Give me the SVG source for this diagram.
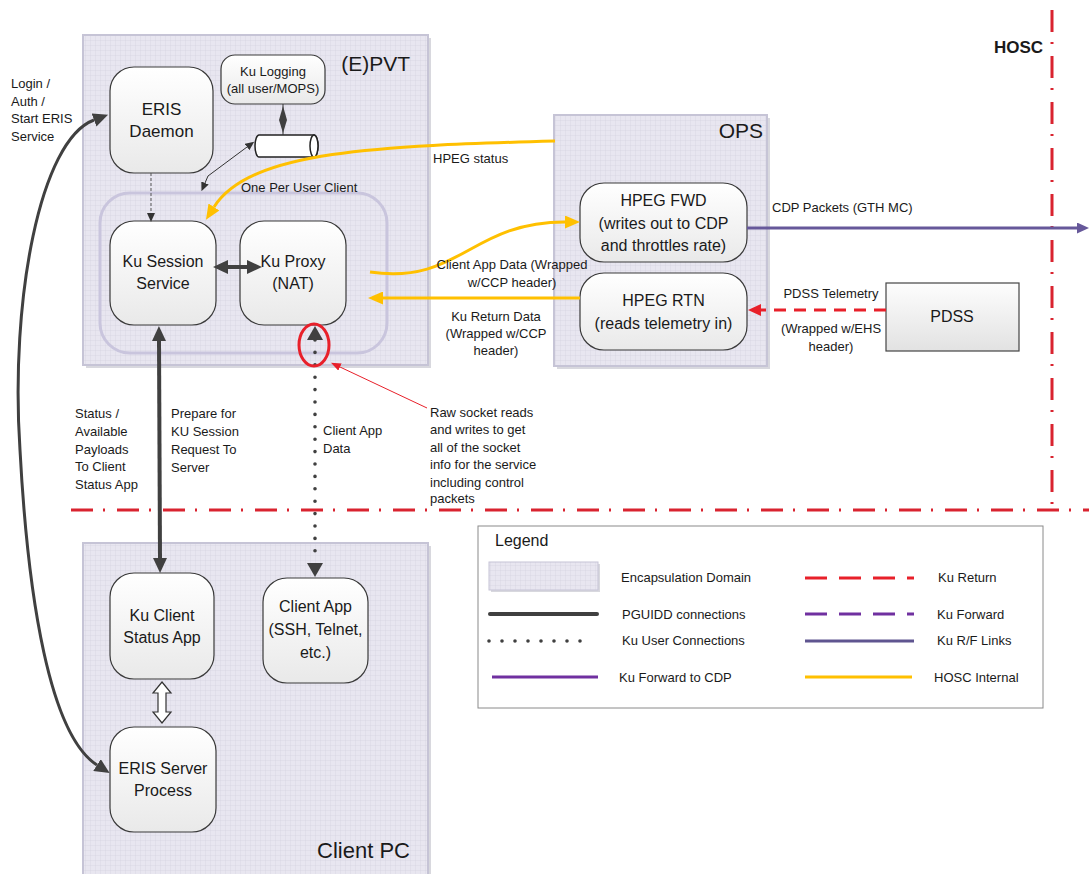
<svg xmlns="http://www.w3.org/2000/svg" width="1089" height="874" viewBox="0 0 1089 874">
<style>
text{font-family:"Liberation Sans",Arial,sans-serif;fill:#1a1a1a}
.s{font-size:13px}
.n{font-size:16px;text-anchor:middle}
.d{font-size:21px}
.node{fill:url(#ng);stroke:#3a3a3a;stroke-width:1.2}
.dom{fill:url(#grid);stroke:#c6c4d6;stroke-width:2}
.orange{fill:none;stroke:#ffc000;stroke-width:3}
.dark{fill:none;stroke:#404040}
.hdd{fill:none;stroke:#d9232f;stroke-width:3;stroke-dasharray:22 10 2 12}
</style>
<defs>
<pattern id="grid" width="5" height="5" patternUnits="userSpaceOnUse">
<rect width="5" height="5" fill="#e8e6f0"/>
<path d="M5,0 L0,0 0,5" fill="none" stroke="#d3d1e0" stroke-width="0.7"/>
</pattern>
<linearGradient id="ng" x1="0" y1="0" x2="0" y2="1">
<stop offset="0" stop-color="#ffffff"/><stop offset="1" stop-color="#e9e9e9"/>
</linearGradient>
<linearGradient id="pg" x1="0" y1="0" x2="0" y2="1">
<stop offset="0" stop-color="#fdfdfd"/><stop offset="1" stop-color="#e2e2e2"/>
</linearGradient>
<marker id="aBig" viewBox="0 0 15 14" refX="0" refY="7" markerWidth="15" markerHeight="14" markerUnits="userSpaceOnUse" orient="auto-start-reverse"><path d="M0,0 L15,7 L0,14 z" fill="#404040"/></marker>
<marker id="aDot" viewBox="0 0 14 16" refX="0" refY="8" markerWidth="14" markerHeight="16" markerUnits="userSpaceOnUse" orient="auto-start-reverse"><path d="M0,0 L14,8 L0,16 z" fill="#404040"/></marker>
<marker id="aSm" viewBox="0 0 9 8" refX="0" refY="4" markerWidth="9" markerHeight="8" markerUnits="userSpaceOnUse" orient="auto-start-reverse"><path d="M0,0 L9,4 L0,8 z" fill="#333"/></marker>
<marker id="aOr" viewBox="0 0 15 13" refX="0" refY="6.5" markerWidth="15" markerHeight="13" markerUnits="userSpaceOnUse" orient="auto-start-reverse"><path d="M0,0 L15,6.5 L0,13 z" fill="#ffc000"/></marker>
<marker id="aRed" viewBox="0 0 13 12" refX="0" refY="6" markerWidth="13" markerHeight="12" markerUnits="userSpaceOnUse" orient="auto-start-reverse"><path d="M0,0 L13,6 L0,12 z" fill="#e8202a"/></marker>
<marker id="aRedSm" viewBox="0 0 10 8" refX="0" refY="4" markerWidth="10" markerHeight="8" markerUnits="userSpaceOnUse" orient="auto-start-reverse"><path d="M0,0 L10,4 L0,8 z" fill="#e8202a"/></marker>
<marker id="aPur" viewBox="0 0 12 11" refX="0" refY="5.5" markerWidth="12" markerHeight="11" markerUnits="userSpaceOnUse" orient="auto-start-reverse"><path d="M0,0 L12,5.5 L0,11 z" fill="#66589a"/></marker>
</defs>
<rect width="1089" height="874" fill="#ffffff"/>

<g id="domain-epvt">
<rect x="86" y="38" width="345" height="330" fill="#d8d8de"/>
<rect class="dom" x="83" y="35" width="345" height="330"/>
<text class="d" x="410" y="71" text-anchor="end">(E)PVT</text>
</g>
<g id="domain-ops">
<rect x="557" y="118" width="213" height="251" fill="#d8d8de"/>
<rect class="dom" x="554" y="115" width="213" height="251"/>
<text class="d" x="763" y="138" text-anchor="end">OPS</text>
</g>
<g id="domain-clientpc">
<rect x="86" y="546" width="345" height="335" fill="#d8d8de"/>
<rect class="dom" x="83" y="543" width="345" height="335"/>
<text class="d" x="410" y="858" text-anchor="end" style="font-size:22px">Client PC</text>
</g>

<g id="hosc">
<line class="hdd" x1="1052" y1="10" x2="1052" y2="508"/>
<line class="hdd" x1="71" y1="510" x2="1089" y2="510"/>
<text x="1043" y="53" text-anchor="end" style="font-size:17px;font-weight:bold">HOSC</text>
</g>

<g id="user-client-group">
<rect x="100" y="193" width="287" height="160" rx="30" fill="none" stroke="#c9c5dd" stroke-width="3"/>
<text class="s" x="241" y="192">One Per User Client</text>
</g>

<g id="eris-daemon"><rect class="node" x="110" y="67" width="103" height="106" rx="24"/>
<text class="n" x="161.5" y="115" style="font-size:17px">ERIS</text><text class="n" x="161.5" y="137" style="font-size:17px">Daemon</text></g>
<g id="ku-logging"><rect class="node" x="221" y="55" width="104" height="49" rx="14"/>
<text class="s" x="273" y="75.5" text-anchor="middle">Ku Logging</text><text class="s" x="273" y="92.5" text-anchor="middle">(all user/MOPS)</text></g>
<g id="log-store">
<path d="M259,135 L314,135 A4,11 0 0 1 314,157 L259,157 A4,11 0 0 1 259,135 Z" fill="#ffffff" stroke="#222" stroke-width="1.5"/>
<ellipse cx="314" cy="146" rx="4" ry="11" fill="#ffffff" stroke="#222" stroke-width="1.5"/>
</g>
<g id="ku-session"><rect class="node" x="110" y="221" width="106" height="104" rx="24"/>
<text class="n" x="163" y="266.5">Ku Session</text><text class="n" x="163" y="288.5">Service</text></g>
<g id="ku-proxy"><rect class="node" x="240" y="221" width="106" height="104" rx="24"/>
<text class="n" x="293" y="266.5">Ku Proxy</text><text class="n" x="293" y="288.5">(NAT)</text></g>
<g id="hpeg-fwd"><rect class="node" x="580" y="183" width="167" height="79" rx="24"/>
<text class="n" x="663.5" y="205.5">HPEG FWD</text><text class="n" x="663.5" y="228.5">(writes out to CDP</text><text class="n" x="663.5" y="250.5">and throttles rate)</text></g>
<g id="hpeg-rtn"><rect class="node" x="580" y="273" width="167" height="77" rx="24"/>
<text class="n" x="663.5" y="305.5">HPEG RTN</text><text class="n" x="663.5" y="328.5">(reads telemetry in)</text></g>
<g id="pdss"><rect x="886" y="283" width="133" height="68" fill="url(#pg)" stroke="#444" stroke-width="1.2"/>
<text class="n" x="952" y="322">PDSS</text></g>
<g id="ku-client-status"><rect class="node" x="110" y="573" width="104" height="106" rx="24"/>
<text class="n" x="162" y="620.5">Ku Client</text><text class="n" x="162" y="642.5">Status App</text></g>
<g id="client-app"><rect class="node" x="263" y="578" width="105" height="105" rx="24"/>
<text class="n" x="315.5" y="612">Client App</text><text class="n" x="315.5" y="635">(SSH, Telnet,</text><text class="n" x="315.5" y="658">etc.)</text></g>
<g id="eris-server"><rect class="node" x="110" y="727" width="106" height="105" rx="24"/>
<text class="n" x="163" y="773.5">ERIS Server</text><text class="n" x="163" y="795.5">Process</text></g>

<g id="connectors">
<path class="dark" d="M94,120 C40,140 10,300 20,450 C28,600 50,735 97,765" stroke-width="3" marker-start="url(#aBig)" marker-end="url(#aBig)"/>
<line class="dark" x1="228" y1="267" x2="247" y2="267" stroke-width="4" marker-start="url(#aBig)" marker-end="url(#aBig)"/>
<line class="dark" x1="159" y1="341" x2="160" y2="558" stroke-width="4" marker-start="url(#aBig)" marker-end="url(#aBig)"/>
<line x1="151" y1="173" x2="151" y2="213" stroke="#555" stroke-width="1" stroke-dasharray="3 2" marker-end="url(#aSm)"/>
<path d="M247,147 L208,176 L205,183" fill="none" stroke="#333" stroke-width="1" marker-start="url(#aSm)" marker-end="url(#aSm)"/>
<line x1="283" y1="104" x2="283" y2="135" stroke="#333" stroke-width="1"/>
<polygon points="283,106 287,120 283,133 279,120" fill="#404040"/>
<line x1="315" y1="340" x2="315" y2="563" stroke="#404040" stroke-width="3.6" stroke-linecap="round" stroke-dasharray="0 12.4" marker-start="url(#aDot)" marker-end="url(#aDot)"/>
<polygon points="162,682 171,693 166,693 166,712 171,712 162,723 153,712 158,712 158,693 153,693" fill="#ffffff" stroke="#333" stroke-width="1.2"/>
<path class="orange" d="M555,141 C380,146 250,150 214,207" marker-end="url(#aOr)"/>
<path class="orange" d="M370,272 C460,285 470,222 565,222" marker-end="url(#aOr)"/>
<line class="orange" x1="580" y1="298" x2="383" y2="298" marker-end="url(#aOr)"/>
<line x1="747" y1="228" x2="1077" y2="228" stroke="#66589a" stroke-width="3" marker-end="url(#aPur)"/>
<line x1="886" y1="310" x2="761" y2="310" stroke="#e8202a" stroke-width="3" stroke-dasharray="12 8" marker-end="url(#aRed)"/>
<ellipse cx="314" cy="345" rx="15" ry="21" fill="none" stroke="#e8202a" stroke-width="3"/>
<line x1="427" y1="408" x2="340" y2="367" stroke="#e8202a" stroke-width="1" marker-end="url(#aRedSm)"/>
</g>

<g id="labels">
<text class="s" x="11" y="88">Login /</text>
<text class="s" x="11" y="106">Auth /</text>
<text class="s" x="11" y="123">Start ERIS</text>
<text class="s" x="11" y="141">Service</text>
<text class="s" x="433" y="162.5">HPEG status</text>
<text class="s" x="512" y="268.5" text-anchor="middle">Client App Data (Wrapped</text>
<text class="s" x="512" y="286.5" text-anchor="middle">w/CCP header)</text>
<text class="s" x="496" y="320.5" text-anchor="middle">Ku Return Data</text>
<text class="s" x="496" y="337.5" text-anchor="middle">(Wrapped w/CCP</text>
<text class="s" x="496" y="354.5" text-anchor="middle">header)</text>
<text class="s" x="772" y="211.5">CDP Packets (GTH MC)</text>
<text class="s" x="831" y="297.5" text-anchor="middle">PDSS Telemetry</text>
<text class="s" x="831" y="332.5" text-anchor="middle">(Wrapped w/EHS</text>
<text class="s" x="831" y="351" text-anchor="middle">header)</text>
<text class="s" x="75" y="417.5">Status /</text>
<text class="s" x="75" y="435.5">Available</text>
<text class="s" x="75" y="453.5">Payloads</text>
<text class="s" x="75" y="470.5">To Client</text>
<text class="s" x="75" y="488.5">Status App</text>
<text class="s" x="171" y="417.5">Prepare for</text>
<text class="s" x="171" y="435.5">KU Session</text>
<text class="s" x="171" y="453.5">Request To</text>
<text class="s" x="171" y="471.5">Server</text>
<text class="s" x="323" y="434.5">Client App</text>
<text class="s" x="323" y="452.5">Data</text>
<text class="s" x="430" y="416.5">Raw socket reads</text>
<text class="s" x="430" y="434">and writes to get</text>
<text class="s" x="430" y="451.5">all of the socket</text>
<text class="s" x="430" y="469">info for the service</text>
<text class="s" x="430" y="486.5">including control</text>
<text class="s" x="430" y="503">packets</text>
</g>

<g id="legend">
<rect x="478" y="526" width="565" height="182" fill="#ffffff" stroke="#8a8a8a" stroke-width="1"/>
<text x="495" y="546" style="font-size:16px">Legend</text>
<rect x="491" y="564" width="109" height="28" fill="#d8d8de"/>
<rect x="489" y="562" width="109" height="28" fill="url(#grid)" stroke="#c6c4d6" stroke-width="1"/>
<text class="s" x="621" y="581.5">Encapsulation Domain</text>
<line x1="490" y1="614" x2="597" y2="614" stroke="#404040" stroke-width="4" stroke-linecap="round"/>
<text class="s" x="622" y="618.5">PGUIDD connections</text>
<line x1="489" y1="641" x2="593" y2="641" stroke="#404040" stroke-width="3.6" stroke-linecap="round" stroke-dasharray="0 13"/>
<text class="s" x="622" y="644.5">Ku User Connections</text>
<line x1="492" y1="677" x2="598" y2="677" stroke="#7030a0" stroke-width="3"/>
<text class="s" x="619" y="681.5">Ku Forward to CDP</text>
<line x1="805" y1="578" x2="914" y2="578" stroke="#e8202a" stroke-width="3" stroke-dasharray="22 12"/>
<text class="s" x="938" y="581.5">Ku Return</text>
<line x1="805" y1="614" x2="914" y2="614" stroke="#7030a0" stroke-width="3" stroke-dasharray="22 12"/>
<text class="s" x="937" y="618.5">Ku Forward</text>
<line x1="805" y1="641" x2="914" y2="641" stroke="#5f5590" stroke-width="3"/>
<text class="s" x="937" y="644.5">Ku R/F Links</text>
<line x1="805" y1="677" x2="912" y2="677" stroke="#ffc000" stroke-width="3"/>
<text class="s" x="934" y="681.5">HOSC Internal</text>
</g>
</svg>
